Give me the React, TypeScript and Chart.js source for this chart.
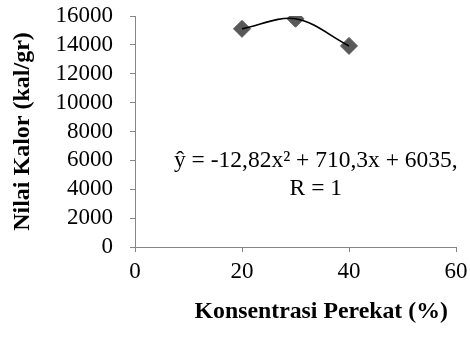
import React, { useEffect, useRef } from 'react';
import { Chart, registerables } from 'chart.js';

Chart.register(...registerables);

// ---- data ----
const concentrations = [20, 30, 40];
const calorValues = [15110, 15810, 13930];
const xTickValues = [0, 20, 40, 60];
const yTickValues = [0, 2000, 4000, 6000, 8000, 10000, 12000, 14000, 16000];
const equationLines = ['ŷ = -12,82x² + 710,3x + 6035,', 'R = 1'];
const xTitle = 'Konsentrasi Perekat (%)';
const yTitle = 'Nilai Kalor (kal/gr)';

const FONT = '"Liberation Serif", "Times New Roman", serif';
const AXIS_COLOR = '#868686';
const MARKER_COLOR = '#595959';

const textPlugin = {
  id: 'textPlugin',
  afterDraw(chart: any) {
    const { ctx, scales, chartArea } = chart;
    ctx.save();
    ctx.fillStyle = '#000';
    ctx.textAlign = 'center';
    ctx.font = `23.5px ${FONT}`;
    ctx.textBaseline = 'alphabetic';
    const cx = scales.x.getPixelForValue(33.8);
    const by = scales.y.getPixelForValue(5540);
    equationLines.forEach((t, i) => ctx.fillText(t, cx, by + i * 28));
    ctx.font = `bold 23.8px ${FONT}`;
    ctx.textBaseline = 'middle';
    ctx.fillText(xTitle, scales.x.getPixelForValue(34.8), chartArea.bottom + 65);
    ctx.restore();
  },
};

export default function App() {
  const ref = useRef<HTMLCanvasElement>(null);
  useEffect(() => {
    if (!ref.current) return;
    const points = concentrations.map((x, i) => ({ x, y: calorValues[i] }));
    const chart = new Chart(ref.current, {
      type: 'scatter',
      data: {
        datasets: [
          {
            label: 'trend',
            data: points,
            showLine: true,
            tension: 0.34,
            borderColor: '#000',
            borderWidth: 1.7,
            pointRadius: 0,
            order: 0,
          } as any,
          {
            label: 'Nilai Kalor',
            data: points,
            pointStyle: 'rectRot',
            pointRadius: 8.5,
            backgroundColor: MARKER_COLOR,
            borderColor: MARKER_COLOR,
            borderWidth: 1,
            order: 1,
          } as any,
        ],
      },
      options: {
        animation: false,
        responsive: false,
        devicePixelRatio: 1,
        layout: { padding: { top: 16, right: 14, left: 0, bottom: 0 } },
        plugins: { legend: { display: false }, tooltip: { enabled: false } },
        scales: {
          x: {
            type: 'linear',
            min: 0,
            max: 60,
            afterBuildTicks: (s: any) => {
              s.ticks = xTickValues.map((v) => ({ value: v }));
            },
            afterFit: (s: any) => {
              s.height = 93;
              s.paddingLeft = 0;
              s.paddingRight = 0;
              s.paddingTop = 0;
              s.paddingBottom = 0;
            },
            ticks: {
              color: '#000',
              font: { family: FONT, size: 23 },
              padding: 6,
              autoSkip: false,
              maxRotation: 0,
              callback: (v: any) => String(v),
            },
            grid: { drawOnChartArea: false, tickLength: 5, color: AXIS_COLOR, lineWidth: 1 },
            border: { display: true, color: AXIS_COLOR, width: 1 },
          },
          y: {
            type: 'linear',
            min: 0,
            max: 16000,
            afterBuildTicks: (s: any) => {
              s.ticks = yTickValues.map((v) => ({ value: v }));
            },
            afterFit: (s: any) => {
              s.width = 135;
              s.paddingLeft = 0;
              s.paddingRight = 0;
              s.paddingTop = 0;
              s.paddingBottom = 0;
            },
            ticks: {
              color: '#000',
              font: { family: FONT, size: 23 },
              padding: 17,
              autoSkip: false,
              callback: (v: any) => String(v),
            },
            grid: { drawOnChartArea: false, tickLength: 5, color: AXIS_COLOR, lineWidth: 1 },
            border: { display: true, color: AXIS_COLOR, width: 1 },
            title: {
              display: true,
              text: yTitle,
              color: '#000',
              font: { family: FONT, size: 24, weight: 'bold' },
              padding: { top: 8, bottom: 0 },
            },
          },
        },
      },
      plugins: [textPlugin],
    } as any);
    return () => chart.destroy();
  }, []);
  return (
    <div style={{ position: 'absolute', left: 0, top: 0, width: 470, height: 340, background: '#fff' }}>
      <canvas ref={ref} width={470} height={340} />
    </div>
  );
}
